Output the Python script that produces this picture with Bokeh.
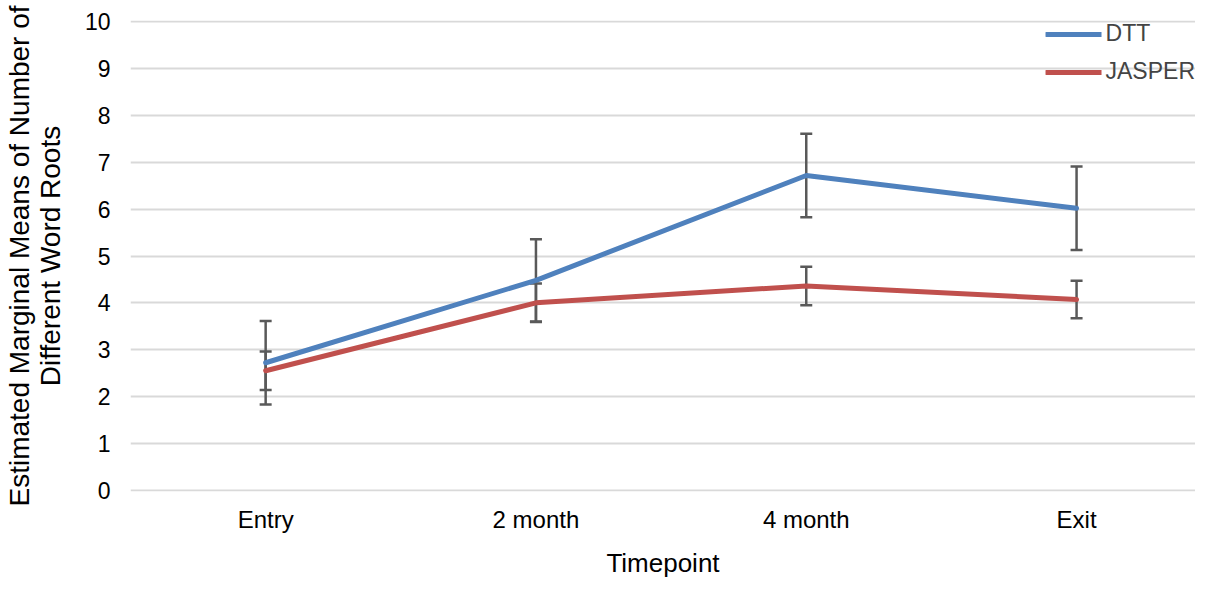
from bokeh.plotting import figure
from bokeh.models import Range1d, Legend, LegendItem, FixedTicker
from bokeh.embed import file_html
from bokeh.resources import INLINE

timepoints = ["Entry", "2 month", "4 month", "Exit"]
dtt_mean = [2.72, 4.48, 6.72, 6.02]
dtt_err = [0.89, 0.88, 0.89, 0.89]
jasper_mean = [2.55, 4.00, 4.36, 4.07]
jasper_err = [0.41, 0.41, 0.41, 0.40]
y_ticks = [0, 1, 2, 3, 4, 5, 6, 7, 8, 9, 10]

FONT = "Liberation Sans"
BLUE = "#4F81BD"
RED = "#C0504D"
GREY = "#595959"

# category centres on a numeric axis (one unit per category)
xpos = [i + 0.5 for i in range(len(timepoints))]

p = figure(width=1195, height=580, x_range=Range1d(0, 3.94),
           y_range=Range1d(-0.03, 10.03), output_backend="svg", toolbar_location=None,
           min_border_left=124, min_border_right=0, min_border_top=20, min_border_bottom=88)
p.outline_line_color = None
p.background_fill_color = "white"

# error bars
for mean, err in ((dtt_mean, dtt_err), (jasper_mean, jasper_err)):
    lo = [m - e for m, e in zip(mean, err)]
    hi = [m + e for m, e in zip(mean, err)]
    p.segment(x0=xpos, y0=lo, x1=xpos, y1=hi, line_color=GREY, line_width=2.5)
    p.scatter(x=xpos, y=lo, marker="dash", size=12, line_color=GREY, line_width=2.5)
    p.scatter(x=xpos, y=hi, marker="dash", size=12, line_color=GREY, line_width=2.5)

r1 = p.line(xpos, dtt_mean, line_color=BLUE, line_width=5, line_cap="round", line_join="round")
r2 = p.line(xpos, jasper_mean, line_color=RED, line_width=5, line_cap="round", line_join="round")

legend = Legend(items=[LegendItem(label="DTT", renderers=[r1]), LegendItem(label="JASPER", renderers=[r2])],
                location="top_right", background_fill_alpha=0, border_line_color=None,
                label_text_font=FONT, label_text_font_size="23px", glyph_width=56, glyph_height=22,
                label_standoff=4, spacing=11, margin=0, padding=4)
p.add_layout(legend)

p.xgrid.grid_line_color = None
p.ygrid.grid_line_color = "#D9D9D9"
p.ygrid.grid_line_width = 2
p.yaxis.ticker = FixedTicker(ticks=y_ticks)
p.xaxis.ticker = FixedTicker(ticks=xpos)
p.xaxis.major_label_overrides = {x: t for x, t in zip(xpos, timepoints)}

for ax in (p.xaxis[0], p.yaxis[0]):
    ax.axis_line_color = None
    ax.major_tick_line_color = None
    ax.minor_tick_line_color = None
    ax.major_label_text_font = FONT
    ax.major_label_text_color = "#000000"
    ax.axis_label_text_font = FONT
    ax.axis_label_text_font_style = "normal"
    ax.axis_label_text_color = "#000000"

p.xaxis.major_label_text_font_size = "24px"
p.yaxis.major_label_text_font_size = "23px"
p.xaxis.axis_label_text_font_size = "26px"
p.yaxis.axis_label_text_font_size = "28px"
p.yaxis.axis_label_text_line_height = 1.0

p.yaxis.axis_label = "Estimated Marginal Means of Number of\nDifferent Word Roots"
p.yaxis.major_label_standoff = 14
p.yaxis.axis_label_standoff = 16
p.xaxis.axis_label = "Timepoint"
p.xaxis.major_label_standoff = 8
p.xaxis.axis_label_standoff = 12

open("out.html", "w").write(file_html(p, INLINE))
